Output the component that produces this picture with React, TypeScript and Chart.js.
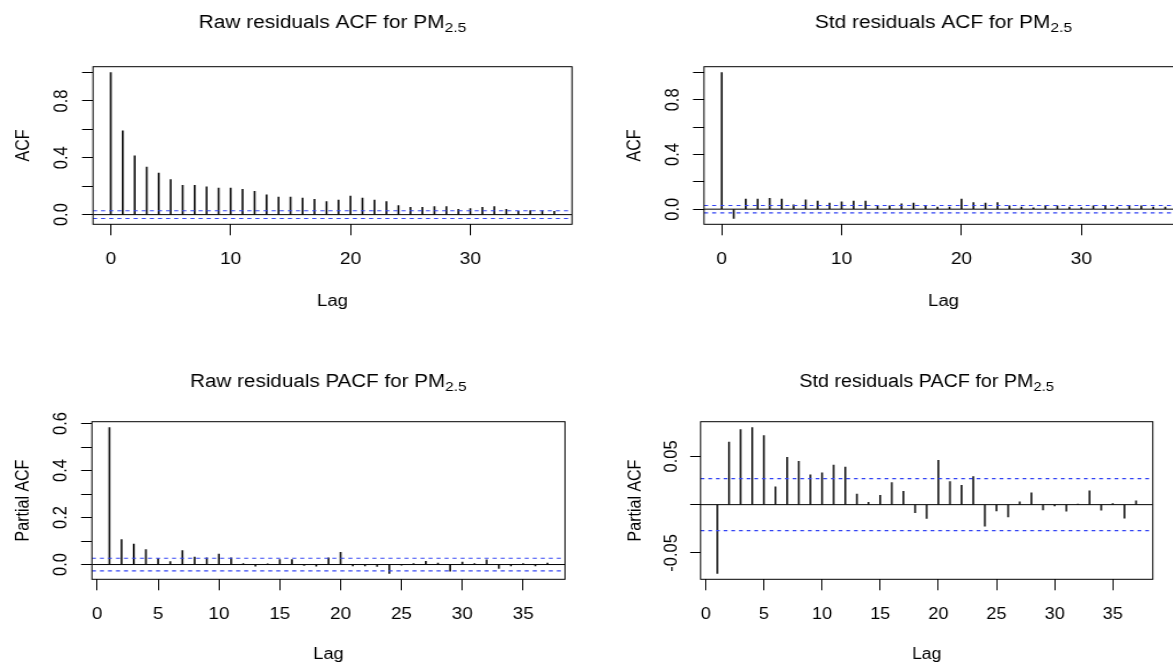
import React, { useEffect, useRef } from 'react';
import { Chart, registerables } from 'chart.js';

Chart.register(...registerables);

// ---------------- data ----------------
const ACF_LAGS = [0, 1, 2, 3, 4, 5, 6, 7, 8, 9, 10, 11, 12, 13, 14, 15, 16, 17, 18, 19, 20, 21, 22, 23, 24, 25, 26, 27, 28, 29, 30, 31, 32, 33, 34, 35, 36, 37];
const PACF_LAGS = [1, 2, 3, 4, 5, 6, 7, 8, 9, 10, 11, 12, 13, 14, 15, 16, 17, 18, 19, 20, 21, 22, 23, 24, 25, 26, 27, 28, 29, 30, 31, 32, 33, 34, 35, 36, 37];

const RAW_ACF = [1.0, 0.59, 0.414, 0.335, 0.293, 0.246, 0.206, 0.206, 0.195, 0.187, 0.187, 0.178, 0.164, 0.14, 0.124, 0.124, 0.117, 0.108, 0.091, 0.103, 0.131, 0.117, 0.103, 0.091, 0.063, 0.052, 0.052, 0.056, 0.056, 0.038, 0.042, 0.052, 0.056, 0.038, 0.024, 0.028, 0.028, 0.024];
const STD_ACF = [1.0, -0.068, 0.073, 0.073, 0.08, 0.073, 0.032, 0.068, 0.059, 0.044, 0.054, 0.059, 0.059, 0.024, 0.024, 0.039, 0.044, 0.029, 0.015, 0.015, 0.073, 0.049, 0.044, 0.049, 0.024, 0.015, 0.01, 0.027, 0.024, 0.015, 0.012, 0.024, 0.029, 0.015, 0.024, 0.024, 0.015, 0.015];
const RAW_PACF = [0.583, 0.106, 0.0875, 0.0635, 0.0254, 0.0127, 0.059, 0.032, 0.028, 0.045, 0.028, 0.004, -0.007, 0.003, 0.021, 0.021, -0.004, -0.007, 0.028, 0.052, -0.006, -0.006, -0.008, -0.038, -0.003, 0.004, 0.014, 0.006, -0.028, 0.01, 0.004, 0.02, -0.017, -0.006, 0.004, -0.006, 0.006];
const STD_PACF = [-0.0714, 0.065, 0.078, 0.08, 0.0716, 0.0185, 0.049, 0.045, 0.031, 0.033, 0.041, 0.039, 0.011, 0.0024, 0.0096, 0.023, 0.0137, -0.0082, -0.0144, 0.046, 0.024, 0.02, 0.029, -0.0223, -0.0065, -0.0127, 0.003, 0.0123, -0.0055, -0.0014, -0.0068, 0.0005, 0.0144, -0.0058, 0.001, -0.014, 0.004];

const CI_BOUND = 0.027;

const ACF_X_TICKS = [0, 10, 20, 30];
const PACF_X_TICKS = [0, 5, 10, 15, 20, 25, 30, 35];
const ACF_Y_TICKS = [0, 0.2, 0.4, 0.6, 0.8, 1.0];
const ACF_Y_LABELS = ['0.0', '', '0.4', '', '0.8', ''];
const RAW_PACF_Y_TICKS = [0, 0.1, 0.2, 0.3, 0.4, 0.5, 0.6];
const RAW_PACF_Y_LABELS = ['0.0', '', '0.2', '', '0.4', '', '0.6'];
const STD_PACF_Y_TICKS = [-0.05, 0, 0.05];
const STD_PACF_Y_LABELS = ['-0.05', '', '0.05'];

// ---------------- layout ----------------
// screen px are used for boxes; offsets below are in "logical" px of the
// horizontally stretched drawing (screen px / BASE_STRETCH).
const BASE_STRETCH = 1.16;
const STAGE_W = 1240;
const STAGE_H = 664;
const FONT = '"Liberation Sans", Arial, Helvetica, sans-serif';
const TICK_FONT = 16.5;
const AXIS_TITLE_FONT = 16;
const MAIN_TITLE_FONT = 18;
const X_TICK_LEN = 11;
const Y_TICK_LEN = 11 / BASE_STRETCH;
const Y_LABEL_OFFSET = 31 / BASE_STRETCH;
const Y_TITLE_OFFSET = 69 / BASE_STRETCH;
const X_LABEL_OFFSET = 35;
const BLUE = '#3344f4';
const BAR_COLOR = '#111';

type Box = { l: number; r: number; t: number; b: number };
interface PanelSpec {
  title: string;
  sub: string;
  ylab: string;
  lags: number[];
  values: number[];
  xTicks: number[];
  yTicks: number[];
  yLabels: string[];
  box: Box;
  stretch: number;
  titleBaseline: number;
  xTitleY: number;
}

const PANELS: PanelSpec[] = [
  { title: 'Raw residuals ACF for PM', sub: '2.5', ylab: 'ACF', lags: ACF_LAGS, values: RAW_ACF, xTicks: ACF_X_TICKS, yTicks: ACF_Y_TICKS, yLabels: ACF_Y_LABELS, box: { l: 93, r: 572, t: 66.7, b: 224.3 }, stretch: 1.16, titleBaseline: 28, xTitleY: 302 },
  { title: 'Std residuals ACF for PM', sub: '2.5', ylab: 'ACF', lags: ACF_LAGS, values: STD_ACF, xTicks: ACF_X_TICKS, yTicks: ACF_Y_TICKS, yLabels: ACF_Y_LABELS, box: { l: 704, r: 1183, t: 66.7, b: 224.3 }, stretch: 1.16, titleBaseline: 28, xTitleY: 302 },
  { title: 'Raw residuals PACF for PM', sub: '2.5', ylab: 'Partial ACF', lags: PACF_LAGS, values: RAW_PACF, xTicks: PACF_X_TICKS, yTicks: RAW_PACF_Y_TICKS, yLabels: RAW_PACF_Y_LABELS, box: { l: 91.9, r: 565, t: 421.7, b: 579.3 }, stretch: 1.145, titleBaseline: 387, xTitleY: 655 },
  { title: 'Std residuals PACF for PM', sub: '2.5', ylab: 'Partial ACF', lags: PACF_LAGS, values: STD_PACF, xTicks: PACF_X_TICKS, yTicks: STD_PACF_Y_TICKS, yLabels: STD_PACF_Y_LABELS, box: { l: 700.6, r: 1152.8, t: 421.7, b: 579.3 }, stretch: 1.095, titleBaseline: 387, xTitleY: 655 },
];

function rRange(lo: number, hi: number): [number, number] {
  const d = (hi - lo) * 0.04;
  return [lo - d, hi + d];
}

function decorPlugin(p: PanelSpec) {
  return {
    id: 'rDecor',
    afterDraw(chart: any) {
      const ctx: CanvasRenderingContext2D = chart.ctx;
      const a = chart.chartArea;
      ctx.save();
      // plot box
      ctx.strokeStyle = '#000';
      ctx.lineWidth = 1;
      ctx.strokeRect(a.left, a.top, a.right - a.left, a.bottom - a.top);
      // y tick labels, parallel to the axis
      const ys = chart.scales.y;
      ctx.fillStyle = '#000';
      ctx.font = `${TICK_FONT}px ${FONT}`;
      ctx.textAlign = 'center';
      ctx.textBaseline = 'middle';
      p.yTicks.forEach((v, i) => {
        const lab = p.yLabels[i];
        if (!lab) return;
        const y = ys.getPixelForValue(v);
        ctx.save();
        ctx.translate(a.left - Y_LABEL_OFFSET, y);
        ctx.rotate(-Math.PI / 2);
        ctx.fillText(lab, 0, 0);
        ctx.restore();
      });
      // main title with subscript
      const cx = (a.left + a.right) / 2;
      const by = p.titleBaseline;
      const subSize = MAIN_TITLE_FONT * 0.75;
      ctx.font = `${MAIN_TITLE_FONT}px ${FONT}`;
      const w1 = ctx.measureText(p.title).width;
      ctx.font = `${subSize}px ${FONT}`;
      const w2 = ctx.measureText(p.sub).width;
      const x0 = cx - (w1 + w2) / 2;
      ctx.textAlign = 'left';
      ctx.textBaseline = 'alphabetic';
      ctx.font = `${MAIN_TITLE_FONT}px ${FONT}`;
      ctx.fillText(p.title, x0, by);
      ctx.font = `${subSize}px ${FONT}`;
      ctx.fillText(p.sub, x0 + w1, by + 4);
      ctx.restore();
    },
  };
}

function PanelCanvas({ p }: { p: PanelSpec }) {
  const ref = useRef<HTMLCanvasElement>(null);
  const s = p.stretch;
  const canvasW = Math.round(STAGE_W / s);
  useEffect(() => {
    const bx = { l: p.box.l / s, r: p.box.r / s, t: p.box.t, b: p.box.b };
    const xlim = rRange(Math.min(...p.lags), Math.max(...p.lags));
    const ylim = rRange(Math.min(...p.values, -CI_BOUND), Math.max(...p.values, CI_BOUND));
    const tickLH = TICK_FONT * 1.2;
    const titleLH = AXIS_TITLE_FONT * 1.2;
    const chart = new Chart(ref.current as HTMLCanvasElement, {
      type: 'bar',
      data: {
        datasets: [
          { type: 'line', data: [{ x: xlim[0], y: CI_BOUND }, { x: xlim[1], y: CI_BOUND }], borderColor: BLUE, borderWidth: 1.1, borderDash: [3.5, 3.5], pointRadius: 0, order: 0 } as any,
          { type: 'line', data: [{ x: xlim[0], y: -CI_BOUND }, { x: xlim[1], y: -CI_BOUND }], borderColor: BLUE, borderWidth: 1.1, borderDash: [3.5, 3.5], pointRadius: 0, order: 1 } as any,
          { type: 'line', data: [{ x: xlim[0], y: 0 }, { x: xlim[1], y: 0 }], borderColor: '#000', borderWidth: 1, pointRadius: 0, order: 2 } as any,
          { type: 'bar', data: p.lags.map((x, i) => ({ x, y: p.values[i] })), backgroundColor: BAR_COLOR, barThickness: 1, borderWidth: 0, order: 3 } as any,
        ],
      },
      options: {
        responsive: false,
        animation: false,
        devicePixelRatio: 1,
        events: [],
        layout: { padding: { left: 0, right: canvasW - bx.r, top: bx.t, bottom: 0 } },
        plugins: { legend: { display: false }, tooltip: { enabled: false }, title: { display: false } },
        scales: {
          x: {
            type: 'linear',
            position: 'bottom',
            min: xlim[0],
            max: xlim[1],
            bounds: 'data',
            offset: false,
            afterBuildTicks: (sc: any) => { sc.ticks = p.xTicks.map((v) => ({ value: v })); },
            afterFit: (sc: any) => { sc.height = STAGE_H - bx.b; },
            grid: { display: true, offset: false, drawOnChartArea: false, drawTicks: true, tickLength: X_TICK_LEN, color: '#000', lineWidth: 1 },
            border: { display: false },
            ticks: {
              autoSkip: false, maxRotation: 0, minRotation: 0,
              padding: X_LABEL_OFFSET - X_TICK_LEN - tickLH / 2,
              color: '#000', font: { family: FONT, size: TICK_FONT },
              callback: (v: any) => String(v),
            },
            title: {
              display: true, text: 'Lag', color: '#000', font: { family: FONT, size: AXIS_TITLE_FONT },
              padding: { top: 0, bottom: STAGE_H - p.xTitleY - titleLH / 2 },
            },
          },
          y: {
            type: 'linear',
            position: 'left',
            min: ylim[0],
            max: ylim[1],
            bounds: 'data',
            afterBuildTicks: (sc: any) => { sc.ticks = p.yTicks.map((v) => ({ value: v })); },
            afterFit: (sc: any) => { sc.width = bx.l; },
            grid: { display: true, drawOnChartArea: false, drawTicks: true, tickLength: Y_TICK_LEN, color: '#000', lineWidth: 1 },
            border: { display: false },
            ticks: { display: false },
            title: {
              display: true, text: p.ylab, color: '#000', font: { family: FONT, size: AXIS_TITLE_FONT },
              padding: { top: bx.l - Y_TITLE_OFFSET - titleLH / 2, bottom: 0 },
            },
          },
        },
      } as any,
      plugins: [decorPlugin(p)],
    });
    return () => chart.destroy();
  }, [p]);
  return (
    <div
      style={{
        position: 'absolute', left: 0, top: 0, width: canvasW, height: STAGE_H,
        transform: `scaleX(${s})`, transformOrigin: '0 0',
      }}
    >
      <canvas
        ref={ref}
        width={canvasW}
        height={STAGE_H}
        style={{ position: 'absolute', left: 0, top: 0, width: canvasW, height: STAGE_H }}
      />
    </div>
  );
}

export default function App() {
  return (
    <div style={{ position: 'fixed', left: 0, top: 0, width: 1173, height: STAGE_H, overflow: 'hidden', background: '#fff' }}>
      {PANELS.map((p, i) => (
        <PanelCanvas key={i} p={p} />
      ))}
    </div>
  );
}
